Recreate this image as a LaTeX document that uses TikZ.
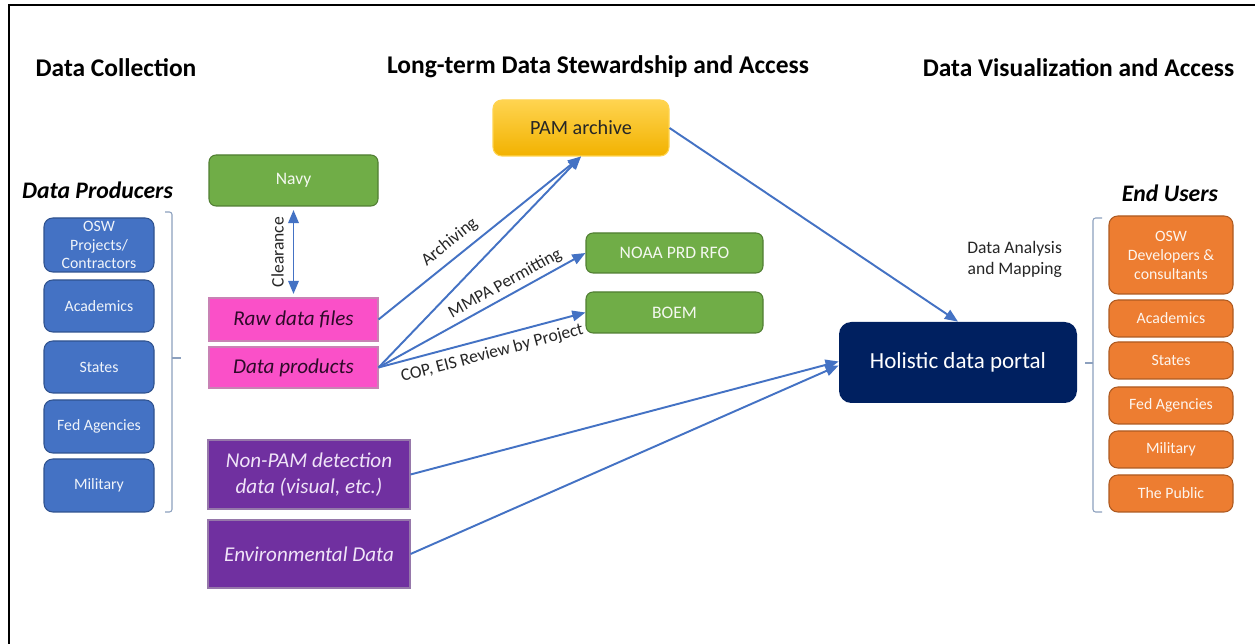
\documentclass[tikz,border=0pt]{standalone}
\usepackage{fontspec}
\setmainfont{Carlito}
\usetikzlibrary{arrows.meta}
\definecolor{bblue}{HTML}{4472C4}
\definecolor{bblueD}{HTML}{2F528F}
\definecolor{ggreen}{HTML}{70AD47}
\definecolor{ggreenD}{HTML}{507E32}
\definecolor{ppink}{RGB}{250,80,200}
\definecolor{ppinkD}{RGB}{200,130,180}
\definecolor{ppurple}{HTML}{7030A0}
\definecolor{ppurpleD}{RGB}{150,120,170}
\definecolor{oorange}{HTML}{ED7D31}
\definecolor{oorangeD}{HTML}{AE5A21}
\definecolor{nnavy}{HTML}{002060}
\definecolor{gold1}{RGB}{255,212,80}
\definecolor{gold2}{RGB}{242,178,0}
\definecolor{brk}{RGB}{140,160,190}
\definecolor{pinktext}{RGB}{45,10,40}
\definecolor{lav}{RGB}{240,228,248}
\tikzset{
  sz/.style 2 args={minimum width=#1*0.02cm, minimum height=#2*0.02cm, inner sep=0pt, align=center},
  heading/.style={font=\fontsize{14.5}{17}\selectfont\bfseries},
  subheading/.style={font=\fontsize{13.5}{16}\selectfont\bfseries\itshape},
  bluebox/.style={fill=bblue, draw=bblueD, line width=0.6pt, rounded corners=5pt, text=white!92!bblue, font=\fontsize{9}{10.5}\selectfont},
  orangebox/.style={fill=oorange, draw=oorangeD, line width=0.6pt, rounded corners=5pt, text=white!92!oorange, font=\fontsize{9}{10.8}\selectfont},
  greenbox/.style={fill=ggreen, draw=ggreenD, line width=0.6pt, rounded corners=4pt, text=white!92!ggreen, font=\fontsize{10}{12}\selectfont},
  pinkbox/.style={fill=ppink, draw=ppinkD, line width=0.6pt, text=pinktext, font=\fontsize{12}{14}\selectfont\itshape},
  purplebox/.style={fill=ppurple, draw=ppurpleD, line width=0.6pt, text=lav, font=\fontsize{12}{14.5}\selectfont\itshape},
  goldbox/.style={top color=gold1, bottom color=gold2, draw=gold1, line width=0.6pt, rounded corners=5pt, text=black!85, font=\fontsize{11.5}{14}\selectfont},
  navybox/.style={fill=nnavy, rounded corners=7pt, text=white, font=\fontsize{13.1}{16}\selectfont},
  flow/.style={draw=bblue, line width=1.1pt, -{Triangle[length=7.5pt,width=6pt]}},
  lbl/.style={font=\fontsize{10}{12}\selectfont, text=black!85, inner sep=1pt},
  brace/.style={draw=brk, line width=0.6pt, rounded corners=1.5pt},
}
\begin{document}
\begin{tikzpicture}[x=0.02cm, y=-0.02cm]
\useasboundingbox (0,0) rectangle (1255,644);
\fill[white] (0,0) rectangle (1255,644);
% frame
\draw[line width=1.6pt, black] (9,644) -- (9,5) -- (1255,5);

% headings
\node[heading] (h1) at (116,68) {Data Collection};
\node[heading, anchor=base] (h2) at (598,74) {Long-term Data Stewardship and Access};
\node[heading] (h3) at (1078.5,68) {Data Visualization and Access};
\node[subheading] (dp) at (97.5,190) {Data Producers};
\node[subheading] (eu) at (1170,193) {End Users};

% producers
\node[bluebox, sz={110}{54}] (p1) at (99,245) {OSW\\Projects/\\Contractors};
\node[bluebox, sz={110}{52}] (p2) at (99,306) {Academics};
\node[bluebox, sz={110}{52}] (p3) at (99,367) {States};
\node[bluebox, sz={110}{53}] (p4) at (99,426.5) {Fed Agencies};
\node[bluebox, sz={110}{53}] (p5) at (99,485.5) {Military};
\draw[brace] (165,212) -- (172,212) -- (172,512) -- (165,512);
\draw[draw=brk, line width=0.6pt] (172,358) -- (181,358);

% end users
\node[orangebox, sz={124}{78}] (u1) at (1171,255) {OSW\\Developers \&\\consultants};
\node[orangebox, sz={124}{37}] (u2) at (1171,318.5) {Academics};
\node[orangebox, sz={124}{37}] (u3) at (1171,360.5) {States};
\node[orangebox, sz={124}{37}] (u4) at (1171,405.5) {Fed Agencies};
\node[orangebox, sz={124}{37}] (u5) at (1171,449.5) {Military};
\node[orangebox, sz={124}{37}] (u6) at (1171,493.5) {The Public};
\draw[brace] (1102,218) -- (1093,218) -- (1093,512) -- (1102,512);
\draw[draw=brk, line width=0.6pt] (1093,363) -- (1085,363);

% middle column
\node[greenbox, sz={169}{51}] (navy) at (293.5,180.5) {Navy};
\node[pinkbox, sz={169}{43}] (raw) at (293.5,319.5) {Raw data files};
\node[pinkbox, sz={169}{41}] (prod) at (293.5,367.5) {Data products};
\node[purplebox, sz={202}{69}] (nonpam) at (309,474.5) {Non-PAM detection\\data (visual, etc.)};
\node[purplebox, sz={202}{68}] (env) at (309,554) {Environmental Data};
\node[goldbox, sz={176}{56}] (pam) at (581,128) {PAM archive};
\node[greenbox, sz={177}{40}] (noaa) at (674.5,253) {NOAA PRD RFO};
\node[greenbox, sz={177}{41}] (boem) at (674.5,312.5) {BOEM};
\node[navybox, sz={238}{81}] (hol) at (958,362.5) {Holistic data portal};

% connectors
\draw[draw=bblue, line width=1.1pt, {Triangle[length=7.5pt,width=6pt]}-{Triangle[length=7.5pt,width=6pt]}, shorten <=2pt, shorten >=2pt]
  (navy.south) -- node[lbl, rotate=90, above=4pt] {Clearance} (raw.north);
\draw[flow] (raw.east) -- node[lbl, pos=0.4, sloped, above=3pt] {Archiving} (pam.south);
\draw[flow] (prod.east) -- (pam.south);
\draw[flow] (prod.east) -- node[lbl, pos=0.64, sloped, above=1pt] {MMPA Permitting} (noaa.west);
\draw[flow] (prod.east) -- node[lbl, pos=0.53, sloped, below=3pt] {COP, EIS Review by Project} (boem.west);
\draw[flow] (pam.east) -- (hol.north);
\draw[flow] (nonpam.east) -- ([yshift=0.02cm]hol.west);
\draw[flow] (env.east) -- ([yshift=-0.06cm]hol.west);

\node[lbl, align=right, anchor=east] (dam) at (1064,259.5) {Data Analysis\\and Mapping};
\end{tikzpicture}
\end{document}
